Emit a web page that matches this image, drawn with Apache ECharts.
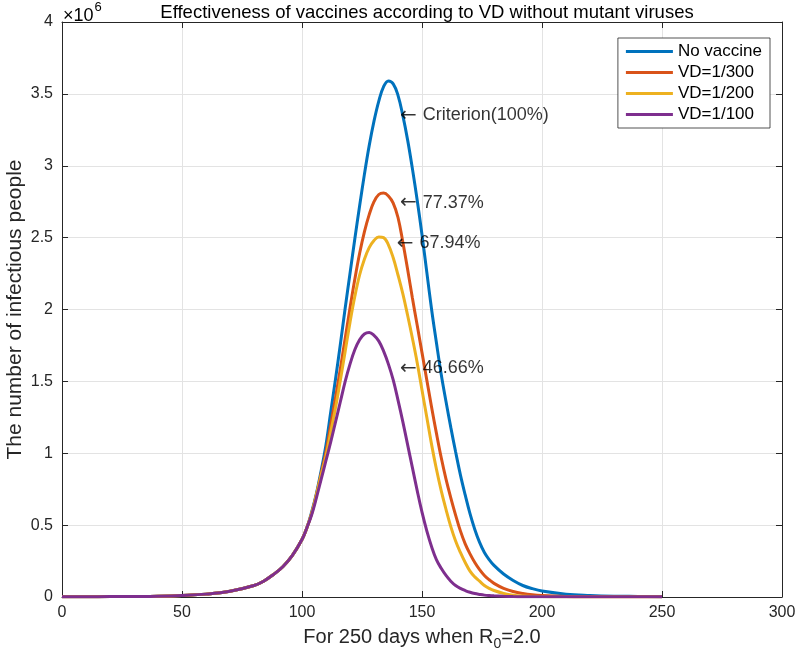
<!DOCTYPE html>
<html>
<head>
<meta charset="utf-8">
<script src="https://cdn.jsdelivr.net/npm/echarts@6/dist/echarts.min.js"></script>
<style>
html,body{margin:0;padding:0;background:#fff;}
#chart{width:800px;height:659px;}
</style>
</head>
<body>
<div id="chart"></div>
<script>
// Days sampled (x axis)
const days = [0,10,20,30,40,50,60,70,80,84,88,92,96,100,102,104,106,108,110,112,114,116,118,120,122,124,126,128,130,132,134,136,138,140,142,144,146,148,150,152,154,156,158,160,162,164,166,168,170,172,174,176,178,180,184,188,192,196,200,210,220,230,240,250];
// Infectious people, in millions (x10^6)
const noVaccine = [0.001,0.002,0.003,0.004,0.006,0.011,0.02,0.04,0.08,0.11,0.155,0.21,0.29,0.40,0.48,0.59,0.72,0.88,1.06,1.29,1.52,1.76,2.01,2.25,2.49,2.72,2.94,3.14,3.31,3.45,3.55,3.59,3.57,3.49,3.35,3.18,2.98,2.76,2.52,2.26,2.00,1.77,1.55,1.36,1.18,1.01,0.85,0.71,0.58,0.47,0.38,0.31,0.26,0.22,0.16,0.115,0.08,0.058,0.042,0.02,0.011,0.006,0.004,0.002];
const vd300 = [0.001,0.002,0.003,0.004,0.006,0.011,0.02,0.04,0.08,0.11,0.155,0.21,0.29,0.40,0.48,0.58,0.71,0.86,1.01,1.20,1.39,1.59,1.80,2.01,2.21,2.39,2.54,2.66,2.75,2.80,2.81,2.79,2.74,2.64,2.47,2.28,2.08,1.89,1.70,1.51,1.32,1.14,0.97,0.82,0.69,0.57,0.46,0.37,0.30,0.24,0.19,0.15,0.12,0.095,0.06,0.038,0.024,0.015,0.01,0.004,0.002,0.001,0.001,0.001];
const vd200 = [0.001,0.002,0.003,0.004,0.006,0.011,0.02,0.04,0.08,0.11,0.155,0.21,0.29,0.40,0.48,0.58,0.71,0.85,0.98,1.15,1.32,1.51,1.71,1.91,2.09,2.24,2.35,2.43,2.48,2.505,2.50,2.45,2.36,2.24,2.11,1.96,1.80,1.63,1.44,1.25,1.06,0.89,0.74,0.61,0.49,0.39,0.31,0.24,0.18,0.14,0.11,0.08,0.06,0.045,0.025,0.013,0.007,0.004,0.003,0.001,0.001,0.001,0.001,0.001];
const vd100 = [0.001,0.002,0.003,0.004,0.006,0.011,0.02,0.04,0.08,0.11,0.155,0.21,0.29,0.40,0.48,0.57,0.69,0.82,0.95,1.08,1.22,1.36,1.50,1.62,1.72,1.79,1.83,1.84,1.82,1.78,1.71,1.62,1.51,1.37,1.22,1.06,0.90,0.74,0.59,0.46,0.35,0.26,0.20,0.15,0.11,0.08,0.06,0.045,0.033,0.024,0.018,0.013,0.01,0.008,0.005,0.003,0.002,0.001,0.001,0.001,0.001,0.001,0.001,0.001];
const seriesNames = ['No vaccine','VD=1/300','VD=1/200','VD=1/100'];
const seriesValues = [noVaccine, vd300, vd200, vd100];
const seriesColors = ['#0072BD','#D95319','#EDB120','#7E2F8E'];
// Annotations: [day, value(millions), text]
const noteDays = [140.8, 140.8, 139.5, 140.8];
const noteVals = [3.35, 2.74, 2.46, 1.59];
const noteTexts = ['Criterion(100%)','77.37%','67.94%','46.66%'];
// Ticks
const xTicks = [0,50,100,150,200,250,300];
const yTickLabels = ['0','0.5','1','1.5','2','2.5','3','3.5','4'];

const FONT = '"Liberation Sans", Arial, Helvetica, sans-serif';
const axisColor = '#262626';
const gridColor = '#e3e3e3';

const chart = echarts.init(document.getElementById('chart'), null, {renderer:'canvas'});

const lineSeries = seriesNames.map((n,k)=>({
  name:n, type:'line', smooth:0.4, showSymbol:false, symbol:'none',
  data: days.map((d,i)=>[d, seriesValues[k][i]]),
  lineStyle:{color:seriesColors[k], width:3},
  itemStyle:{color:seriesColors[k]},
  z: 3 + k
}));

const noteSeries = {
  type:'scatter', symbolSize:0, silent:true, z:10,
  data: noteDays.map((d,i)=>({value:[d, noteVals[i]], label:{formatter: '{ar|\u2190}{t|' + noteTexts[i] + '}'}})),
  label:{show:true, position:'right', distance:0, color:'#000', fontSize:18, fontFamily:FONT,
    rich:{
      ar:{fontFamily:'"DejaVu Sans"', fontSize:20, color:'#000'},
      t:{fontFamily:FONT, fontSize:18, color:'#000', padding:[0,0,0,6]}
    }}
};

const option = {
  backgroundColor:'#fff',
  animation:false,
  title:{
    text:'Effectiveness of vaccines according to VD without mutant viruses',
    left:422, top:-2, textAlign:'center',
    textStyle:{fontFamily:FONT, fontSize:18.5, fontWeight:'normal', color:'#000'}
  },
  legend:{
    data:seriesNames,
    orient:'vertical', right:30, top:38,
    icon:'rect', itemWidth:47, itemHeight:3, itemGap:4,
    padding:[5,8,5,8],
    backgroundColor:'#fff', borderColor:axisColor, borderWidth:0.8, borderRadius:0,
    textStyle:{fontFamily:FONT, fontSize:17, color:'#000'}
  },
  grid:{left:62, right:18, top:22, bottom:62, containLabel:false, outerBoundsMode:'none'},
  xAxis:[{
    type:'value', min:0, max:300, interval:50, position:'bottom',
    name:'{a|For 250 days when R}{s|0}{a|=2.0}',
    nameLocation:'middle', nameGap:26,
    nameTextStyle:{rich:{
      a:{fontFamily:FONT, fontSize:20, color:'#262626'},
      s:{fontFamily:FONT, fontSize:14, color:'#262626', verticalAlign:'bottom', padding:[14,0,0,0]}
    }},
    axisLine:{show:true, onZero:false, lineStyle:{color:axisColor, width:1}},
    axisTick:{show:true, inside:true, length:6, lineStyle:{color:axisColor}},
    axisLabel:{fontFamily:FONT, fontSize:16, color:'#262626', margin:8,
      formatter:(v)=> xTicks.indexOf(v)>=0 ? String(v) : ''},
    splitLine:{show:true, lineStyle:{color:gridColor, width:1}}
  },{
    type:'value', min:0, max:300, interval:50, position:'top',
    axisLine:{show:true, onZero:false, lineStyle:{color:axisColor, width:1}},
    axisTick:{show:true, inside:true, length:6, lineStyle:{color:axisColor}},
    axisLabel:{show:false}, splitLine:{show:false}
  }],
  yAxis:[{
    type:'value', min:0, max:4, interval:0.5, position:'left',
    name:'The number of infectious people',
    nameLocation:'middle', nameGap:36, nameMoveOverlap:false,
    nameTextStyle:{fontFamily:FONT, fontSize:21, color:'#262626'},
    axisLine:{show:true, onZero:false, lineStyle:{color:axisColor, width:1}},
    axisTick:{show:true, inside:true, length:6, lineStyle:{color:axisColor}},
    axisLabel:{fontFamily:FONT, fontSize:16, color:'#262626', margin:9,
      formatter:(v)=> yTickLabels[Math.round(v*2)]},
    splitLine:{show:true, lineStyle:{color:gridColor, width:1}}
  },{
    type:'value', min:0, max:4, interval:0.5, position:'right',
    axisLine:{show:true, onZero:false, lineStyle:{color:axisColor, width:1}},
    axisTick:{show:true, inside:true, length:6, lineStyle:{color:axisColor}},
    axisLabel:{show:false}, splitLine:{show:false}
  }],
  graphic:[{
    type:'text', left:63, top:1,
    style:{
      text:'{a|\u00d710}{b|6}',
      rich:{
        a:{fontFamily:FONT, fontSize:18, color:'#262626', padding:[6,0,0,0]},
        b:{fontFamily:FONT, fontSize:13, color:'#262626', verticalAlign:'top', padding:[0,0,8,1]}
      }
    }
  }],
  series:[...lineSeries, noteSeries]
};
chart.setOption(option);
</script>
</body>
</html>
